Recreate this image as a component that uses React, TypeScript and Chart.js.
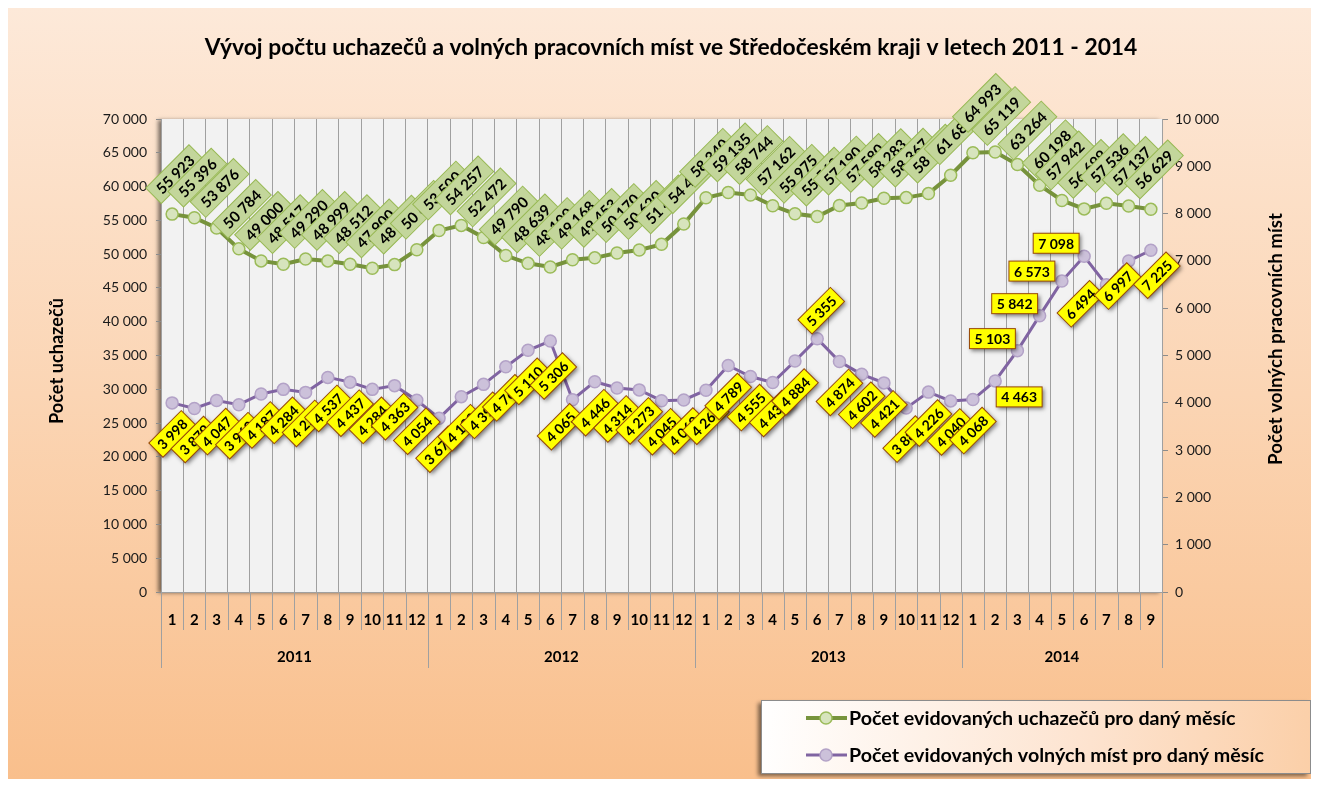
import React, { useEffect, useRef } from 'react';
import { Chart, registerables } from 'chart.js';

Chart.register(...registerables);

const TITLE = 'Vývoj počtu uchazečů a volných pracovních míst ve Středočeském kraji v letech 2011 - 2014';
const LEFT_AXIS_TITLE = 'Počet uchazečů';
const RIGHT_AXIS_TITLE = 'Počet volných pracovních míst';
const SERIES_UCH = 'Počet evidovaných uchazečů pro daný měsíc';
const SERIES_VOL = 'Počet evidovaných volných míst pro daný měsíc';

const years = ['2011', '2012', '2013', '2014'];
const monthsInYear = [12, 12, 12, 9];
const months = [
  '1', '2', '3', '4', '5', '6', '7', '8', '9', '10', '11', '12',
  '1', '2', '3', '4', '5', '6', '7', '8', '9', '10', '11', '12',
  '1', '2', '3', '4', '5', '6', '7', '8', '9', '10', '11', '12',
  '1', '2', '3', '4', '5', '6', '7', '8', '9',
];

const uchazeci = [
  55923, 55396, 53876, 50784, 49000, 48517, 49290, 48999, 48512, 47900, 48450, 50650,
  53500, 54257, 52472, 49790, 48639, 48100, 49168, 49453, 50170, 50620, 51450, 54450,
  58340, 59135, 58744, 57162, 55975, 55560, 57190, 57580, 58283, 58367, 58960, 61680,
  64993, 65119, 63264, 60198, 57942, 56699, 57536, 57137, 56629,
];

const volnaMista = [
  3998, 3879, 4047, 3960, 4187, 4284, 4220, 4537, 4437, 4284, 4363, 4054,
  3675, 4130, 4390, 4760, 5110, 5306, 4065, 4446, 4314, 4273, 4045, 4060,
  4266, 4789, 4555, 4430, 4884, 5355, 4874, 4602, 4421, 3888, 4226, 4040,
  4068, 4463, 5103, 5842, 6573, 7098, 6494, 6997, 7225,
];

const leftTicksMax = 70000;
const leftTicksStep = 5000;
const rightTicksMax = 10000;
const rightTicksStep = 1000;

// label placement (style, not data)
const GREEN_DEFAULT = { dx: 3, dy: -40, rot: -45 };
const YELLOW_DEFAULT = { dx: 0, dy: 31, rot: -45 };
const yellowOverrides: Record<number, { dx: number; dy: number; rot: number }> = {
  17: { dx: 3, dy: 35, rot: -45 },
  18: { dx: -12, dy: 27, rot: -45 },
  29: { dx: 4, dy: -28, rot: -45 },
  37: { dx: 24, dy: 16, rot: 0 },
  38: { dx: -25, dy: -12, rot: 0 },
  39: { dx: -25, dy: -12, rot: 0 },
  40: { dx: -30, dy: -10, rot: 0 },
  41: { dx: -28, dy: -13, rot: 0 },
  42: { dx: -26, dy: 19, rot: -45 },
  43: { dx: -11, dy: 25, rot: -45 },
  44: { dx: 6, dy: 25, rot: -45 },
};
const greenOverrides: Record<number, { dx: number; dy: number; rot: number }> = {
  36: { dx: 9, dy: -50, rot: -45 },
  37: { dx: 6, dy: -36, rot: -45 },
  38: { dx: 10, dy: -34, rot: -45 },
  39: { dx: 12, dy: -36, rot: -45 },
};

const FONT = 'Lato, "Open Sans", sans-serif';

const fmt = (v: number) => String(Math.round(v)).replace(/\B(?=(\d{3})+(?!\d))/g, ' ');

function fitSize(ctx: CanvasRenderingContext2D, text: string, weight: string, target: number) {
  ctx.font = `${weight} 20px ${FONT}`;
  const w = ctx.measureText(text).width;
  return (20 * target) / w;
}

function drawBoxLabel(
  ctx: CanvasRenderingContext2D,
  text: string,
  cx: number,
  cy: number,
  rotDeg: number,
  fill: string,
  stroke: string,
  shadow: boolean,
  padX: number,
  h: number
) {
  ctx.save();
  ctx.translate(cx, cy);
  ctx.rotate((rotDeg * Math.PI) / 180);
  const w = ctx.measureText(text).width + padX * 2;
  if (shadow) {
    ctx.shadowColor = 'rgba(0,0,0,0.5)';
    ctx.shadowBlur = 4;
    ctx.shadowOffsetX = 2;
    ctx.shadowOffsetY = 2;
  }
  ctx.fillStyle = fill;
  ctx.fillRect(-w / 2, -h / 2, w, h);
  ctx.shadowColor = 'transparent';
  ctx.lineWidth = 1;
  ctx.strokeStyle = stroke;
  ctx.strokeRect(-w / 2, -h / 2, w, h);
  ctx.fillStyle = '#000';
  ctx.fillText(text, 0, 1);
  ctx.restore();
}

const bgPlugin = {
  id: 'bgPlugin',
  beforeDraw(chart: any) {
    const { ctx, width, height, chartArea: a } = chart;
    ctx.save();
    const g = ctx.createLinearGradient(0, 0, 0, height);
    g.addColorStop(0, '#FDE9D9');
    g.addColorStop(0.5, '#FBD5B4');
    g.addColorStop(1, '#F9BF8C');
    ctx.fillStyle = g;
    ctx.fillRect(0, 0, width, height);
    ctx.shadowColor = 'rgba(0,0,0,0.5)';
    ctx.shadowBlur = 4;
    ctx.shadowOffsetX = -3;
    ctx.shadowOffsetY = 1;
    ctx.fillStyle = '#F2F2F2';
    ctx.fillRect(a.left, a.top, a.right - a.left, a.bottom - a.top);
    ctx.restore();
  },
};

const labelsPlugin = {
  id: 'labelsPlugin',
  afterDatasetsDraw(chart: any) {
    const ctx: CanvasRenderingContext2D = chart.ctx;
    ctx.save();
    ctx.textAlign = 'center';
    ctx.textBaseline = 'middle';
    ctx.font = `bold 15px ${FONT}`;
    const m0 = chart.getDatasetMeta(0);
    uchazeci.forEach((v, i) => {
      const p = m0.data[i];
      const pl = greenOverrides[i] || GREEN_DEFAULT;
      drawBoxLabel(ctx, fmt(v), p.x + pl.dx, p.y + pl.dy, pl.rot, '#C3D69B', '#98B954', false, 7, 22);
    });
    ctx.font = `bold 14px ${FONT}`;
    const m1 = chart.getDatasetMeta(1);
    volnaMista.forEach((v, i) => {
      const p = m1.data[i];
      const pl = yellowOverrides[i] || YELLOW_DEFAULT;
      drawBoxLabel(ctx, fmt(v), p.x + pl.dx, p.y + pl.dy, pl.rot, '#FFFF00', '#984807', true, 5, 20);
    });
    ctx.restore();
  },
};

const decorPlugin = {
  id: 'decorPlugin',
  afterDraw(chart: any) {
    const ctx: CanvasRenderingContext2D = chart.ctx;
    const a = chart.chartArea;
    const xs = chart.scales.x;
    ctx.save();

    // title
    ctx.fillStyle = '#000';
    ctx.textAlign = 'center';
    ctx.textBaseline = 'middle';
    const ts = fitSize(ctx, TITLE, 'bold', 933);
    ctx.font = `bold ${ts}px ${FONT}`;
    ctx.fillText(TITLE, 663, 40);

    // axis titles
    const ls = fitSize(ctx, LEFT_AXIS_TITLE, 'bold', 126);
    ctx.save();
    ctx.translate(49, 353);
    ctx.rotate(-Math.PI / 2);
    ctx.font = `bold ${ls}px ${FONT}`;
    ctx.fillText(LEFT_AXIS_TITLE, 0, 0);
    ctx.restore();
    const rs = fitSize(ctx, RIGHT_AXIS_TITLE, 'bold', 252);
    ctx.save();
    ctx.translate(1268, 331);
    ctx.rotate(-Math.PI / 2);
    ctx.font = `bold ${rs}px ${FONT}`;
    ctx.fillText(RIGHT_AXIS_TITLE, 0, 0);
    ctx.restore();

    // category separators and year groups
    const n = months.length;
    const cw = (a.right - a.left) / n;
    ctx.strokeStyle = '#A0A0A0';
    ctx.lineWidth = 1;
    for (let i = 0; i <= n; i++) {
      const x = Math.round(xs.getPixelForValue(Math.min(i, n - 1)) + (i === n ? cw / 2 : -cw / 2)) + 0.5;
      ctx.beginPath();
      ctx.moveTo(x, a.bottom);
      ctx.lineTo(x, a.bottom + 38);
      ctx.stroke();
    }
    let start = 0;
    ctx.font = `bold 15px ${FONT}`;
    const bounds: number[] = [0];
    monthsInYear.forEach((c) => {
      start += c;
      bounds.push(start);
    });
    bounds.forEach((b) => {
      const x = Math.round(xs.getPixelForValue(Math.min(b, n - 1)) + (b === n ? cw / 2 : -cw / 2)) + 0.5;
      ctx.beginPath();
      ctx.moveTo(x, a.bottom);
      ctx.lineTo(x, a.bottom + 76);
      ctx.stroke();
    });
    years.forEach((y, k) => {
      const x0 = xs.getPixelForValue(bounds[k]) - cw / 2;
      const x1 = xs.getPixelForValue(bounds[k + 1] - 1) + cw / 2;
      ctx.fillStyle = '#000';
      ctx.fillText(y, (x0 + x1) / 2, a.bottom + 65);
    });

    // legend
    const lx = 753, ly = 692, lw = 549, lh = 73;
    ctx.save();
    ctx.shadowColor = 'rgba(0,0,0,0.5)';
    ctx.shadowBlur = 4;
    ctx.shadowOffsetX = -3;
    ctx.shadowOffsetY = 3;
    const lg = ctx.createLinearGradient(lx, ly, lx + lw, ly + lh);
    lg.addColorStop(0, '#FFFFFF');
    lg.addColorStop(0.6, '#FDE3CF');
    lg.addColorStop(1, '#FBCFA8');
    ctx.fillStyle = lg;
    ctx.fillRect(lx, ly, lw, lh);
    ctx.restore();
    ctx.strokeStyle = '#8C8C8C';
    ctx.strokeRect(lx + 0.5, ly + 0.5, lw, lh);

    const items = [
      { text: SERIES_UCH, line: '#77933C', lw: 4, fill: '#D7E4BD', border: '#9BBB59', y: ly + 18 },
      { text: SERIES_VOL, line: '#8064A2', lw: 3, fill: '#CCC1DA', border: '#B3A2C7', y: ly + 55 },
    ];
    const fs = fitSize(ctx, SERIES_UCH, 'bold', 387);
    items.forEach((it) => {
      ctx.strokeStyle = it.line;
      ctx.lineWidth = it.lw;
      ctx.beginPath();
      ctx.moveTo(798, it.y);
      ctx.lineTo(839, it.y);
      ctx.stroke();
      ctx.beginPath();
      ctx.arc(818, it.y, 6, 0, Math.PI * 2);
      ctx.fillStyle = it.fill;
      ctx.fill();
      ctx.lineWidth = 1.5;
      ctx.strokeStyle = it.border;
      ctx.stroke();
      ctx.fillStyle = '#000';
      ctx.textAlign = 'left';
      ctx.font = `bold ${fs}px ${FONT}`;
      ctx.fillText(it.text, 841, it.y + 1);
    });
    ctx.restore();
  },
};

export default function App() {
  const ref = useRef<HTMLCanvasElement>(null);
  useEffect(() => {
    if (!ref.current) return;
    const chart = new Chart(ref.current, {
      type: 'line',
      data: {
        labels: months,
        datasets: [
          {
            label: SERIES_UCH,
            data: uchazeci,
            yAxisID: 'y',
            borderColor: '#77933C',
            borderWidth: 4,
            pointRadius: 6,
            pointBackgroundColor: '#D7E4BD',
            pointBorderColor: '#9BBB59',
            pointBorderWidth: 1.5,
            tension: 0,
          },
          {
            label: SERIES_VOL,
            data: volnaMista,
            yAxisID: 'y1',
            borderColor: '#8064A2',
            borderWidth: 3,
            pointRadius: 6,
            pointBackgroundColor: '#CCC1DA',
            pointBorderColor: '#B3A2C7',
            pointBorderWidth: 1.5,
            tension: 0,
          },
        ],
      },
      options: {
        responsive: false,
        animation: false,
        devicePixelRatio: 1,
        layout: { padding: { top: 111, left: 0, right: 0, bottom: 0 } },
        plugins: {
          legend: { display: false },
          title: { display: false },
          tooltip: { enabled: false },
        },
        scales: {
          x: {
            type: 'category',
            offset: true,
            grid: { offset: true, color: '#A0A0A0', drawTicks: false, lineWidth: 1 },
            border: { color: '#A0A0A0' },
            ticks: {
              autoSkip: false,
              maxRotation: 0,
              minRotation: 0,
              padding: 19,
              color: '#000',
              font: { family: FONT, weight: 'bold', size: 15 },
            },
            afterFit: (s: any) => {
              s.height = 187;
            },
          },
          y: {
            position: 'left',
            min: 0,
            max: leftTicksMax,
            ticks: {
              stepSize: leftTicksStep,
              padding: 9,
              color: '#1a1a1a',
              font: { family: FONT, size: 14 },
              callback: (v: any) => fmt(Number(v)),
            },
            grid: { drawOnChartArea: false, tickLength: 5, color: '#8C8C8C' },
            border: { color: '#A0A0A0' },
            afterFit: (s: any) => {
              s.width = 153;
            },
          },
          y1: {
            position: 'right',
            min: 0,
            max: rightTicksMax,
            ticks: {
              stepSize: rightTicksStep,
              padding: 7,
              color: '#1a1a1a',
              font: { family: FONT, size: 14 },
              callback: (v: any) => fmt(Number(v)),
            },
            grid: { drawOnChartArea: false, tickLength: 6, color: '#8C8C8C' },
            border: { color: '#A0A0A0' },
            afterFit: (s: any) => {
              s.width = 149;
            },
          },
        },
      } as any,
      plugins: [bgPlugin, labelsPlugin, decorPlugin],
    });
    return () => chart.destroy();
  }, []);
  return (
    <div style={{ width: 1303, height: 771 }}>
      <canvas ref={ref} width={1303} height={771} style={{ display: 'block' }} />
    </div>
  );
}
